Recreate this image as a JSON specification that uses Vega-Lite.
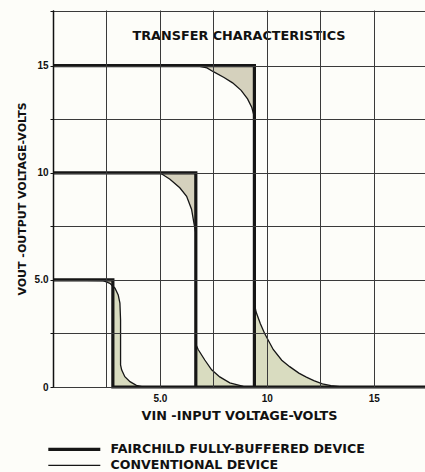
{
  "$schema": "https://vega.github.io/schema/vega-lite/v6.json",
  "autosize": "none",
  "width": 372,
  "height": 377,
  "padding": {"left": 53, "top": 10, "right": 0, "bottom": 85},
  "background": "#fdfdf9",
  "title": {
    "text": "TRANSFER CHARACTERISTICS",
    "frame": "group",
    "anchor": "middle",
    "offset": -33,
    "font": "DejaVu Sans",
    "fontSize": 12.8,
    "fontWeight": "bold",
    "color": "#111"
  },
  "config": {
    "view": {"stroke": null},
    "axis": {
      "labelFont": "Liberation Sans",
      "labelFontWeight": "bold",
      "labelFontSize": 10,
      "labelColor": "#111",
      "titleFont": "DejaVu Sans",
      "titleFontWeight": "bold",
      "titleColor": "#111",
      "gridColor": "#3a3a3a",
      "gridWidth": 1,
      "gridOpacity": 1,
      "domainColor": "#111",
      "domainWidth": 1.5,
      "tickColor": "#111"
    }
  },
  "datasets": {
    "curves": [
      {"curve": "F15", "device": "FAIRCHILD FULLY-BUFFERED DEVICE", "i": 1, "x": 0, "y": 15},
      {"curve": "F15", "device": "FAIRCHILD FULLY-BUFFERED DEVICE", "i": 2, "x": 9.42, "y": 15},
      {"curve": "F15", "device": "FAIRCHILD FULLY-BUFFERED DEVICE", "i": 3, "x": 9.42, "y": 0},
      {"curve": "F10", "device": "FAIRCHILD FULLY-BUFFERED DEVICE", "i": 1, "x": 0, "y": 10},
      {"curve": "F10", "device": "FAIRCHILD FULLY-BUFFERED DEVICE", "i": 2, "x": 6.68, "y": 10},
      {"curve": "F10", "device": "FAIRCHILD FULLY-BUFFERED DEVICE", "i": 3, "x": 6.68, "y": 0},
      {"curve": "F5", "device": "FAIRCHILD FULLY-BUFFERED DEVICE", "i": 1, "x": 0, "y": 5},
      {"curve": "F5", "device": "FAIRCHILD FULLY-BUFFERED DEVICE", "i": 2, "x": 2.8, "y": 5},
      {"curve": "F5", "device": "FAIRCHILD FULLY-BUFFERED DEVICE", "i": 3, "x": 2.8, "y": 0},
      {"curve": "F5", "device": "FAIRCHILD FULLY-BUFFERED DEVICE", "i": 4, "x": 17.4, "y": 0},
      {"curve": "C15", "device": "CONVENTIONAL DEVICE", "i": 1, "x": 0, "y": 15},
      {"curve": "C15", "device": "CONVENTIONAL DEVICE", "i": 2, "x": 6.7, "y": 15},
      {"curve": "C15", "device": "CONVENTIONAL DEVICE", "i": 3, "x": 7.2, "y": 14.9},
      {"curve": "C15", "device": "CONVENTIONAL DEVICE", "i": 4, "x": 7.5, "y": 14.72},
      {"curve": "C15", "device": "CONVENTIONAL DEVICE", "i": 5, "x": 8.0, "y": 14.45},
      {"curve": "C15", "device": "CONVENTIONAL DEVICE", "i": 6, "x": 8.4, "y": 14.2},
      {"curve": "C15", "device": "CONVENTIONAL DEVICE", "i": 7, "x": 8.8, "y": 13.85},
      {"curve": "C15", "device": "CONVENTIONAL DEVICE", "i": 8, "x": 9.1, "y": 13.45},
      {"curve": "C15", "device": "CONVENTIONAL DEVICE", "i": 9, "x": 9.3, "y": 13.05},
      {"curve": "C15", "device": "CONVENTIONAL DEVICE", "i": 10, "x": 9.42, "y": 12.6},
      {"curve": "C15", "device": "CONVENTIONAL DEVICE", "i": 11, "x": 9.42, "y": 3.9},
      {"curve": "C15", "device": "CONVENTIONAL DEVICE", "i": 12, "x": 9.5, "y": 3.5},
      {"curve": "C15", "device": "CONVENTIONAL DEVICE", "i": 13, "x": 9.7, "y": 2.95},
      {"curve": "C15", "device": "CONVENTIONAL DEVICE", "i": 14, "x": 9.9, "y": 2.5},
      {"curve": "C15", "device": "CONVENTIONAL DEVICE", "i": 15, "x": 10.3, "y": 1.75},
      {"curve": "C15", "device": "CONVENTIONAL DEVICE", "i": 16, "x": 10.7, "y": 1.25},
      {"curve": "C15", "device": "CONVENTIONAL DEVICE", "i": 17, "x": 11.07, "y": 0.95},
      {"curve": "C15", "device": "CONVENTIONAL DEVICE", "i": 18, "x": 11.5, "y": 0.65},
      {"curve": "C15", "device": "CONVENTIONAL DEVICE", "i": 19, "x": 11.85, "y": 0.46},
      {"curve": "C15", "device": "CONVENTIONAL DEVICE", "i": 20, "x": 12.2, "y": 0.3},
      {"curve": "C15", "device": "CONVENTIONAL DEVICE", "i": 21, "x": 12.6, "y": 0.15},
      {"curve": "C15", "device": "CONVENTIONAL DEVICE", "i": 22, "x": 13.0, "y": 0.06},
      {"curve": "C15", "device": "CONVENTIONAL DEVICE", "i": 23, "x": 13.5, "y": 0.01},
      {"curve": "C15", "device": "CONVENTIONAL DEVICE", "i": 24, "x": 14.0, "y": 0},
      {"curve": "C10", "device": "CONVENTIONAL DEVICE", "i": 1, "x": 0, "y": 10},
      {"curve": "C10", "device": "CONVENTIONAL DEVICE", "i": 2, "x": 5.0, "y": 10},
      {"curve": "C10", "device": "CONVENTIONAL DEVICE", "i": 3, "x": 5.47, "y": 9.7},
      {"curve": "C10", "device": "CONVENTIONAL DEVICE", "i": 4, "x": 5.93, "y": 9.3},
      {"curve": "C10", "device": "CONVENTIONAL DEVICE", "i": 5, "x": 6.25, "y": 8.9},
      {"curve": "C10", "device": "CONVENTIONAL DEVICE", "i": 6, "x": 6.48, "y": 8.3},
      {"curve": "C10", "device": "CONVENTIONAL DEVICE", "i": 7, "x": 6.6, "y": 7.6},
      {"curve": "C10", "device": "CONVENTIONAL DEVICE", "i": 8, "x": 6.68, "y": 7.2},
      {"curve": "C10", "device": "CONVENTIONAL DEVICE", "i": 9, "x": 6.68, "y": 2.0},
      {"curve": "C10", "device": "CONVENTIONAL DEVICE", "i": 10, "x": 6.79, "y": 1.75},
      {"curve": "C10", "device": "CONVENTIONAL DEVICE", "i": 11, "x": 7.1, "y": 1.26},
      {"curve": "C10", "device": "CONVENTIONAL DEVICE", "i": 12, "x": 7.42, "y": 0.8},
      {"curve": "C10", "device": "CONVENTIONAL DEVICE", "i": 13, "x": 7.8, "y": 0.47},
      {"curve": "C10", "device": "CONVENTIONAL DEVICE", "i": 14, "x": 8.27, "y": 0.19},
      {"curve": "C10", "device": "CONVENTIONAL DEVICE", "i": 15, "x": 8.9, "y": 0.03},
      {"curve": "C10", "device": "CONVENTIONAL DEVICE", "i": 16, "x": 9.2, "y": 0},
      {"curve": "C5", "device": "CONVENTIONAL DEVICE", "i": 1, "x": 0, "y": 5},
      {"curve": "C5", "device": "CONVENTIONAL DEVICE", "i": 2, "x": 2.35, "y": 4.97},
      {"curve": "C5", "device": "CONVENTIONAL DEVICE", "i": 3, "x": 2.66, "y": 4.84},
      {"curve": "C5", "device": "CONVENTIONAL DEVICE", "i": 4, "x": 2.9, "y": 4.61},
      {"curve": "C5", "device": "CONVENTIONAL DEVICE", "i": 5, "x": 3.05, "y": 4.3},
      {"curve": "C5", "device": "CONVENTIONAL DEVICE", "i": 6, "x": 3.13, "y": 3.92},
      {"curve": "C5", "device": "CONVENTIONAL DEVICE", "i": 7, "x": 3.16, "y": 3.13},
      {"curve": "C5", "device": "CONVENTIONAL DEVICE", "i": 8, "x": 3.16, "y": 1.03},
      {"curve": "C5", "device": "CONVENTIONAL DEVICE", "i": 9, "x": 3.21, "y": 0.8},
      {"curve": "C5", "device": "CONVENTIONAL DEVICE", "i": 10, "x": 3.36, "y": 0.48},
      {"curve": "C5", "device": "CONVENTIONAL DEVICE", "i": 11, "x": 3.6, "y": 0.25},
      {"curve": "C5", "device": "CONVENTIONAL DEVICE", "i": 12, "x": 3.9, "y": 0.08},
      {"curve": "C5", "device": "CONVENTIONAL DEVICE", "i": 13, "x": 4.2, "y": 0}
    ],
    "fills": [
      {"region": "top15", "part": "upper", "x": 6.7, "y": 15, "y2": 15},
      {"region": "top15", "part": "upper", "x": 7.2, "y": 14.9, "y2": 15},
      {"region": "top15", "part": "upper", "x": 7.5, "y": 14.72, "y2": 15},
      {"region": "top15", "part": "upper", "x": 8.0, "y": 14.45, "y2": 15},
      {"region": "top15", "part": "upper", "x": 8.4, "y": 14.2, "y2": 15},
      {"region": "top15", "part": "upper", "x": 8.8, "y": 13.85, "y2": 15},
      {"region": "top15", "part": "upper", "x": 9.1, "y": 13.45, "y2": 15},
      {"region": "top15", "part": "upper", "x": 9.3, "y": 13.05, "y2": 15},
      {"region": "top15", "part": "upper", "x": 9.42, "y": 12.6, "y2": 15},
      {"region": "bot15", "part": "lower", "x": 9.42, "y": 3.9, "y2": 0},
      {"region": "bot15", "part": "lower", "x": 9.5, "y": 3.5, "y2": 0},
      {"region": "bot15", "part": "lower", "x": 9.7, "y": 2.95, "y2": 0},
      {"region": "bot15", "part": "lower", "x": 9.9, "y": 2.5, "y2": 0},
      {"region": "bot15", "part": "lower", "x": 10.3, "y": 1.75, "y2": 0},
      {"region": "bot15", "part": "lower", "x": 10.7, "y": 1.25, "y2": 0},
      {"region": "bot15", "part": "lower", "x": 11.07, "y": 0.95, "y2": 0},
      {"region": "bot15", "part": "lower", "x": 11.5, "y": 0.65, "y2": 0},
      {"region": "bot15", "part": "lower", "x": 11.85, "y": 0.46, "y2": 0},
      {"region": "bot15", "part": "lower", "x": 12.2, "y": 0.3, "y2": 0},
      {"region": "bot15", "part": "lower", "x": 12.6, "y": 0.15, "y2": 0},
      {"region": "bot15", "part": "lower", "x": 13.0, "y": 0.06, "y2": 0},
      {"region": "bot15", "part": "lower", "x": 13.5, "y": 0.01, "y2": 0},
      {"region": "bot15", "part": "lower", "x": 14.0, "y": 0, "y2": 0},
      {"region": "top10", "part": "upper", "x": 5.0, "y": 10, "y2": 10},
      {"region": "top10", "part": "upper", "x": 5.47, "y": 9.7, "y2": 10},
      {"region": "top10", "part": "upper", "x": 5.93, "y": 9.3, "y2": 10},
      {"region": "top10", "part": "upper", "x": 6.25, "y": 8.9, "y2": 10},
      {"region": "top10", "part": "upper", "x": 6.48, "y": 8.3, "y2": 10},
      {"region": "top10", "part": "upper", "x": 6.6, "y": 7.6, "y2": 10},
      {"region": "top10", "part": "upper", "x": 6.68, "y": 7.2, "y2": 10},
      {"region": "bot10", "part": "lower", "x": 6.68, "y": 2.0, "y2": 0},
      {"region": "bot10", "part": "lower", "x": 6.79, "y": 1.75, "y2": 0},
      {"region": "bot10", "part": "lower", "x": 7.1, "y": 1.26, "y2": 0},
      {"region": "bot10", "part": "lower", "x": 7.42, "y": 0.8, "y2": 0},
      {"region": "bot10", "part": "lower", "x": 7.8, "y": 0.47, "y2": 0},
      {"region": "bot10", "part": "lower", "x": 8.27, "y": 0.19, "y2": 0},
      {"region": "bot10", "part": "lower", "x": 8.9, "y": 0.03, "y2": 0},
      {"region": "bot10", "part": "lower", "x": 9.2, "y": 0, "y2": 0},
      {"region": "top5", "part": "upper", "x": 2.35, "y": 4.97, "y2": 5},
      {"region": "top5", "part": "upper", "x": 2.66, "y": 4.84, "y2": 5},
      {"region": "top5", "part": "upper", "x": 2.8, "y": 4.72, "y2": 5},
      {"region": "bot5", "part": "lower", "x": 2.8, "y": 4.72, "y2": 0},
      {"region": "bot5", "part": "lower", "x": 2.9, "y": 4.61, "y2": 0},
      {"region": "bot5", "part": "lower", "x": 3.05, "y": 4.3, "y2": 0},
      {"region": "bot5", "part": "lower", "x": 3.13, "y": 3.92, "y2": 0},
      {"region": "bot5", "part": "lower", "x": 3.16, "y": 3.13, "y2": 0},
      {"region": "bot5", "part": "lower", "x": 3.165, "y": 1.03, "y2": 0},
      {"region": "bot5", "part": "lower", "x": 3.21, "y": 0.8, "y2": 0},
      {"region": "bot5", "part": "lower", "x": 3.36, "y": 0.48, "y2": 0},
      {"region": "bot5", "part": "lower", "x": 3.6, "y": 0.25, "y2": 0},
      {"region": "bot5", "part": "lower", "x": 3.9, "y": 0.08, "y2": 0},
      {"region": "bot5", "part": "lower", "x": 4.2, "y": 0, "y2": 0}
    ]
  },
  "encoding": {
    "x": {
      "field": "x",
      "type": "quantitative",
      "scale": {"domain": [0, 17.4], "nice": false, "zero": false},
      "axis": {
        "title": "VIN -INPUT VOLTAGE-VOLTS",
        "titleFontSize": 12.8,
        "values": [0, 2.5, 5, 7.5, 10, 12.5, 15],
        "labelExpr": "datum.value == 5 ? '5.0' : datum.value == 10 ? '10' : datum.value == 15 ? '15' : ''",
        "ticks": false,
        "labelPadding": 6,
        "titlePadding": 6,
        "domain": false,
        "zindex": 1
      }
    },
    "y": {
      "field": "y",
      "type": "quantitative",
      "scale": {"domain": [0, 17.6], "nice": false},
      "axis": {
        "title": "VOUT -OUTPUT VOLTAGE-VOLTS",
        "titleFontSize": 11,
        "values": [0, 2.5, 5, 7.5, 10, 12.5, 15, 17.55],
        "labelExpr": "datum.value == 0 ? '0' : datum.value == 5 ? '5.0' : datum.value == 10 ? '10' : datum.value == 15 ? '15' : ''",
        "tickSize": 3,
        "labelPadding": 2,
        "titlePadding": 7,
        "zindex": 1
      }
    }
  },
  "layer": [
    {
      "data": {"name": "fills"},
      "mark": {"type": "area", "interpolate": "linear"},
      "encoding": {
        "y2": {"field": "y2"},
        "detail": {"field": "region"},
        "color": {
          "field": "part",
          "type": "nominal",
          "scale": {"domain": ["upper", "lower"], "range": ["#d5d1bd", "#d9dcc0"]},
          "legend": null
        }
      }
    },
    {
      "data": {"name": "curves"},
      "mark": {"type": "line", "color": "#161616", "strokeCap": "butt", "strokeJoin": "miter"},
      "encoding": {
        "detail": {"field": "curve"},
        "order": {"field": "i", "type": "quantitative"},
        "strokeWidth": {
          "field": "device",
          "type": "ordinal",
          "scale": {"domain": ["FAIRCHILD FULLY-BUFFERED DEVICE", "CONVENTIONAL DEVICE"], "range": [3.2, 1.3]},
          "legend": {
            "orient": "none",
            "legendX": -9,
            "legendY": 433,
            "title": null,
            "symbolType": "M-1,0H25",
            "symbolSize": 16,
            "symbolStrokeColor": "#161616",
            "symbolFillColor": "transparent",
            "labelFont": "DejaVu Sans",
            "labelFontWeight": "bold",
            "labelFontSize": 12.6,
            "labelLimit": 400,
            "labelColor": "#111",
            "labelOffset": 54,
            "rowPadding": 3
          }
        }
      }
    }
  ]
}
